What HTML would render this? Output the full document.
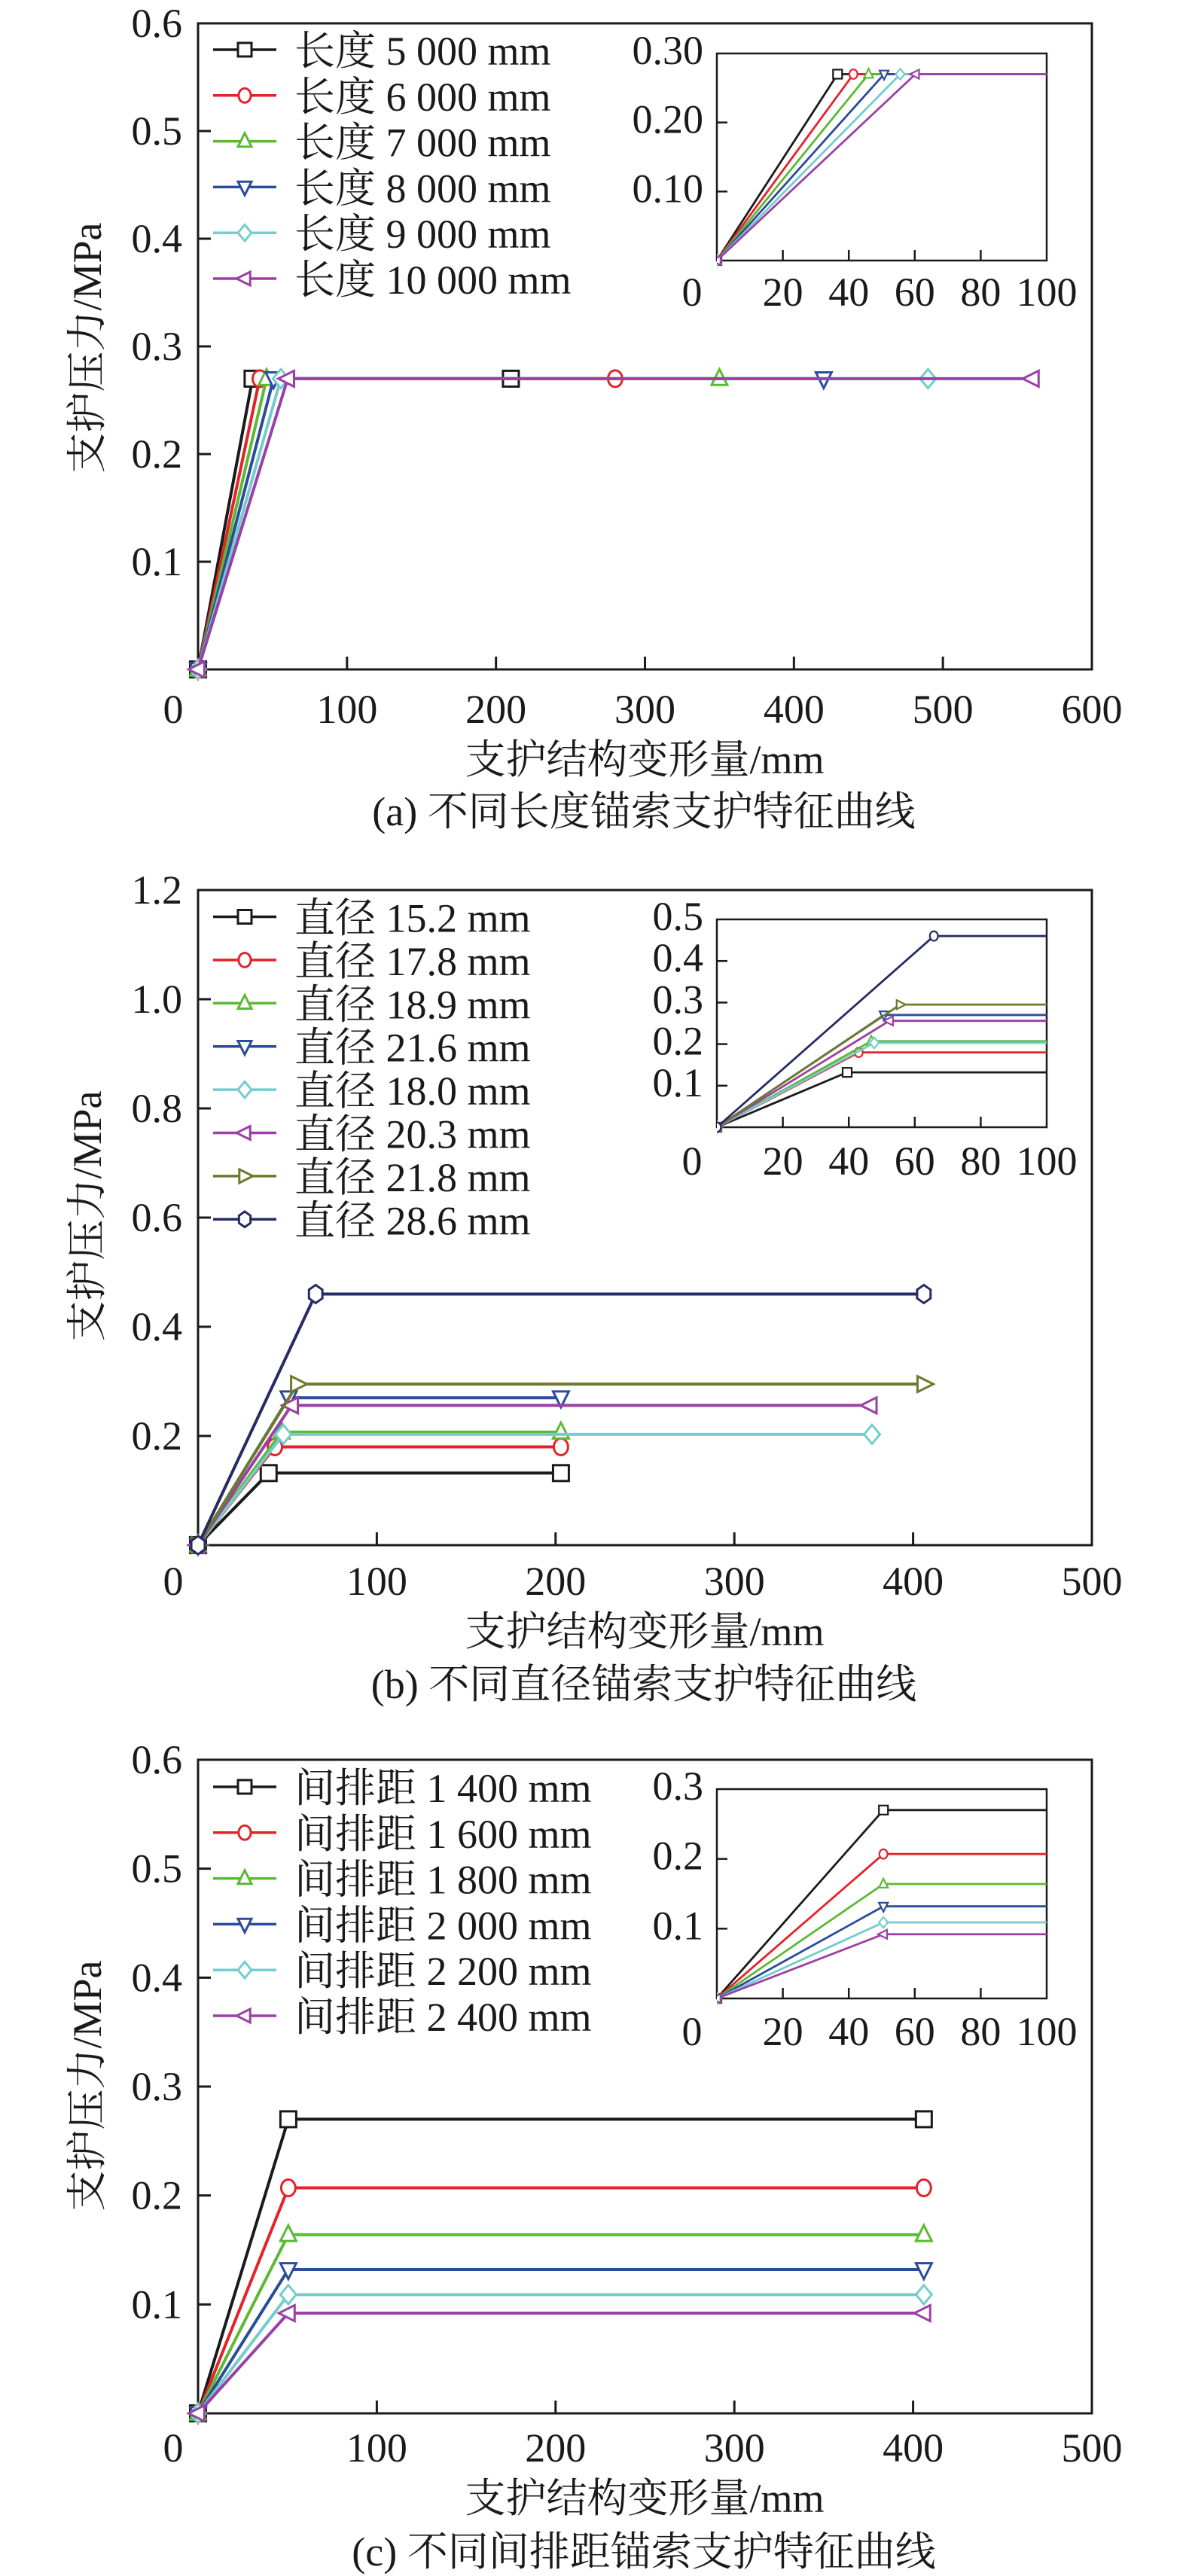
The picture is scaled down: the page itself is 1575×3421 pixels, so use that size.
<!DOCTYPE html>
<html><head><meta charset="utf-8">
<style>
html,body{margin:0;padding:0;background:#fff;}
svg{display:block;}
text{font-family:"Liberation Serif","Noto Serif CJK SC",serif;fill:#1a1a1a;}
</style></head>
<body>
<svg id="fig" width="1575" height="3421" viewBox="0 0 1575 3421" xmlns="http://www.w3.org/2000/svg"></svg>
<script>
// ---------- Panel (a) data ----------
const aLabels = ['长度 5 000 mm','长度 6 000 mm','长度 7 000 mm','长度 8 000 mm','长度 9 000 mm','长度 10 000 mm'];
const aYieldX = [36.6, 41.4, 46.0, 50.7, 55.6, 60.2];
const aYieldY = [0.27, 0.27, 0.27, 0.27, 0.27, 0.27];
const aEndX = [210, 280, 350, 420, 490, 560];
const aXTicks = ['0','100','200','300','400','500','600'];
const aYTicks = ['0.1','0.2','0.3','0.4','0.5','0.6'];
const aInsetYTicks = ['0.10','0.20','0.30'];
// ---------- Panel (b) data ----------
const bLabels = ['直径 15.2 mm','直径 17.8 mm','直径 18.9 mm','直径 21.6 mm','直径 18.0 mm','直径 20.3 mm','直径 21.8 mm','直径 28.6 mm'];
const bYieldX = [39.5, 43.0, 46.8, 50.7, 47.7, 52.3, 55.6, 65.8];
const bYieldY = [0.132, 0.180, 0.207, 0.270, 0.203, 0.256, 0.295, 0.460];
const bEndX = [203, 203, 203, 203, 377, 376, 406, 406];
const bXTicks = ['0','100','200','300','400','500'];
const bYTicks = ['0.2','0.4','0.6','0.8','1.0','1.2'];
const bInsetYTicks = ['0.1','0.2','0.3','0.4','0.5'];
// ---------- Panel (c) data ----------
const cLabels = ['间排距 1 400 mm','间排距 1 600 mm','间排距 1 800 mm','间排距 2 000 mm','间排距 2 200 mm','间排距 2 400 mm'];
const cYieldX = [50.5, 50.5, 50.5, 50.5, 50.5, 50.5];
const cYieldY = [0.270, 0.207, 0.164, 0.132, 0.109, 0.092];
const cEndX = [406, 406, 406, 406, 406, 406];
const cXTicks = ['0','100','200','300','400','500'];
const cYTicks = ['0.1','0.2','0.3','0.4','0.5','0.6'];
const cInsetYTicks = ['0.1','0.2','0.3'];
const insetXTicks = ['0','20','40','60','80','100'];

const NS='http://www.w3.org/2000/svg';
const svg=document.getElementById('fig');
function mk(tag,attrs,parent){const e=document.createElementNS(NS,tag);for(const k in attrs)e.setAttribute(k,attrs[k]);(parent||svg).appendChild(e);return e;}
function txt(str,x,y,size,anchor,parent){const t=mk('text',{x:x,y:y,'font-size':size,'text-anchor':anchor||'middle','dominant-baseline':'central'},parent);t.textContent=str;return t;}

const colA=['#1a1a1a','#e3232a','#5cb934','#2b4b9b','#74cccc','#9a40a6'];
const shpA=['sq','ci','tu','td','di','tl'];
const colB=['#1a1a1a','#e3232a','#5cb934','#2b4b9b','#74cccc','#9a40a6','#6d7a2c','#262b63'];
const shpB=['sq','ci','tu','td','di','tl','tr','hx'];

function marker(g,shape,x,y,s,color,sw){
  let e;
  const h=s/2;
  const base={fill:'#fff',stroke:color,'stroke-width':sw};
  if(shape==='sq'){e=mk('rect',Object.assign({x:x-h,y:y-h,width:s,height:s},base),g);}
  else if(shape==='ci'){e=mk('ellipse',Object.assign({cx:x,cy:y,rx:h*0.9,ry:h*1.05},base),g);}
  else{
    let p;
    if(shape==='tu')p=[[x,y-h*1.2],[x+h,y+h*0.8],[x-h,y+h*0.8]];
    else if(shape==='td')p=[[x,y+h*1.2],[x+h,y-h*0.8],[x-h,y-h*0.8]];
    else if(shape==='tl')p=[[x-h*1.2,y],[x+h*0.8,y-h],[x+h*0.8,y+h]];
    else if(shape==='tr')p=[[x+h*1.2,y],[x-h*0.8,y-h],[x-h*0.8,y+h]];
    else if(shape==='di')p=[[x,y-h*1.2],[x+h,y],[x,y+h*1.2],[x-h,y]];
    else p=[[x,y-h*1.15],[x+h*0.85,y-h*0.55],[x+h*0.85,y+h*0.55],[x,y+h*1.15],[x-h*0.85,y+h*0.55],[x-h*0.85,y-h*0.55]];
    e=mk('polygon',Object.assign({points:p.map(q=>q.join(',')).join(' ')},base),g);
  }
  return e;
}

function panel(P){
  const g=mk('g',{});
  
  
  const L=263,R=1450,T=P.top,B=P.bottom;
  const sx=v=>L+(v/P.xmax)*(R-L);
  const sy=v=>B-(v/P.ymax)*(B-T);
  const fr=mk('rect',{x:L,y:T,width:R-L,height:B-T,fill:'none',stroke:'#1a1a1a','stroke-width':3},g);
  
  
  P.xTicks.forEach((lab,i)=>{
    const v=parseFloat(lab);const x=sx(v);
    if(i>0&&i<P.xTicks.length-1){const t=mk('line',{x1:x,y1:B,x2:x,y2:B-17,stroke:'#1a1a1a','stroke-width':3},g);
      }
    const tl=txt(lab,x-(i===0?33:0),P.xLabY,54,'middle',g);
    
    
  });
  P.yTicks.forEach((lab,i)=>{
    const v=parseFloat(lab);const y=sy(v);
    if(i<P.yTicks.length-1){const t=mk('line',{x1:L,y1:y,x2:L+17,y2:y,stroke:'#1a1a1a','stroke-width':3},g);
      }
    const tl=txt(lab,242,y,54,'end',g);
    
    
  });
  const xt=txt('支护结构变形量/mm',856,P.xTitleY,54,'middle',g);
  
  
  const yt=txt('支护压力/MPa',0,0,54,'middle',g);
  yt.setAttribute('transform','translate(116,'+P.yTitleY+') rotate(-90)');
  
  
  const cap=txt(P.caption,P.capX,P.capY,54,'middle',g);
  
  
  P.labels.forEach((lab,i)=>{
    const xs=[0,P.yx[i],P.ex[i]], ys=[0,P.yy[i],P.yy[i]];
    const sg=mk('g',{},g);
    
    
    const pl=mk('polyline',{points:xs.map((x,k)=>sx(x)+','+sy(ys[k])).join(' '),fill:'none',stroke:P.cols[i],'stroke-width':4,'stroke-linejoin':'miter'},sg);
    
    
    xs.forEach((x,k)=>{const m=marker(sg,P.shapes[i],sx(x),sy(ys[k]),21,P.cols[i],3);
      });
  });
  const lg=mk('g',{},g);
  
  
  P.labels.forEach((lab,i)=>{
    const y=P.legY[0]+i*P.legStep;
    const eg=mk('g',{},lg);
    
    
    mk('line',{x1:283,y1:y,x2:367,y2:y,stroke:P.cols[i],'stroke-width':3.5},eg);
    marker(eg,P.shapes[i],325,y,18,P.cols[i],3);
    txt(lab,391,y+2,54,'start',eg);
  });
  const IL=952,IR=1390,IT=P.iTop,IB=P.iBot;
  const ix=v=>IL+(v/100)*(IR-IL);
  const iy=v=>IB-(v/P.iymax)*(IB-IT);
  const ig=mk('g',{},g);
  
  
  const cid='clip'+P.name;
  const cp=mk('clipPath',{id:cid},ig);
  mk('rect',{x:IL,y:IT-12,width:IR-IL,height:IB-IT+24},cp);
  mk('rect',{x:IL,y:IT,width:IR-IL,height:IB-IT,fill:'#fff',stroke:'#1a1a1a','stroke-width':2.5},ig);
  insetXTicks.forEach((lab,i)=>{
    const x=ix(parseFloat(lab));
    if(i>0&&i<insetXTicks.length-1)mk('line',{x1:x,y1:IB,x2:x,y2:IB-14,stroke:'#1a1a1a','stroke-width':2.5},ig);
    const tl=txt(lab,x-(i===0?33:0),P.iXLabY,54,'middle',ig);
    
    
  });
  P.iyTicks.forEach((lab,i)=>{
    const y=iy(parseFloat(lab));
    if(i<P.iyTicks.length-1)mk('line',{x1:IL,y1:y,x2:IL+14,y2:y,stroke:'#1a1a1a','stroke-width':2.5},ig);
    const tl=txt(lab,934,y-4,54,'end',ig);
    
    
  });
  const cg=mk('g',{'clip-path':'url(#'+cid+')'},ig);
  P.labels.forEach((lab,i)=>{
    const xs=[0,P.yx[i],P.ex[i]], ys=[0,P.yy[i],P.yy[i]];
    const pl=mk('polyline',{points:xs.map((x,k)=>ix(x)+','+iy(ys[k])).join(' '),fill:'none',stroke:P.cols[i],'stroke-width':2.8},cg);
    
    
    xs.forEach((x,k)=>{if(x<=100){const m=marker(cg,P.iShapes?P.iShapes[i]:P.shapes[i],ix(x),iy(ys[k]),12,P.cols[i],2.2);
      }});
  });
}

panel({name:'panel-a',top:31,bottom:889,xmax:600,ymax:0.6,xTicks:aXTicks,yTicks:aYTicks,xLabY:942,xTitleY:1009,yTitleY:462,
  caption:'(a) 不同长度锚索支护特征曲线',capX:855,capY:1078,labels:aLabels,yx:aYieldX,yy:aYieldY,ex:aEndX,cols:colA,shapes:shpA,
  legY:[66],legStep:60.8,iTop:71,iBot:346,iymax:0.3,iyTicks:aInsetYTicks,iXLabY:388});
panel({name:'panel-b',top:1182,bottom:2052,xmax:500,ymax:1.2,xTicks:bXTicks,yTicks:bYTicks,xLabY:2100,xTitleY:2167,yTitleY:1615,
  caption:'(b) 不同直径锚索支护特征曲线',capX:855,capY:2237,labels:bLabels,yx:bYieldX,yy:bYieldY,ex:bEndX,cols:colB,shapes:shpB,
  iShapes:['sq','ci','tu','td','di','tl','tr','ci'],
  legY:[1217.5],legStep:57.4,iTop:1221,iBot:1497,iymax:0.5,iyTicks:bInsetYTicks,iXLabY:1542});
panel({name:'panel-c',top:2337,bottom:3205,xmax:500,ymax:0.6,xTicks:cXTicks,yTicks:cYTicks,xLabY:3251,xTitleY:3318,yTitleY:2770,
  caption:'(c) 不同间排距锚索支护特征曲线',capX:855,capY:3389,labels:cLabels,yx:cYieldX,yy:cYieldY,ex:cEndX,cols:colA,shapes:shpA,
  legY:[2373],legStep:60.8,iTop:2376,iBot:2654,iymax:0.3,iyTicks:cInsetYTicks,iXLabY:2698});
</script>
</body></html>
